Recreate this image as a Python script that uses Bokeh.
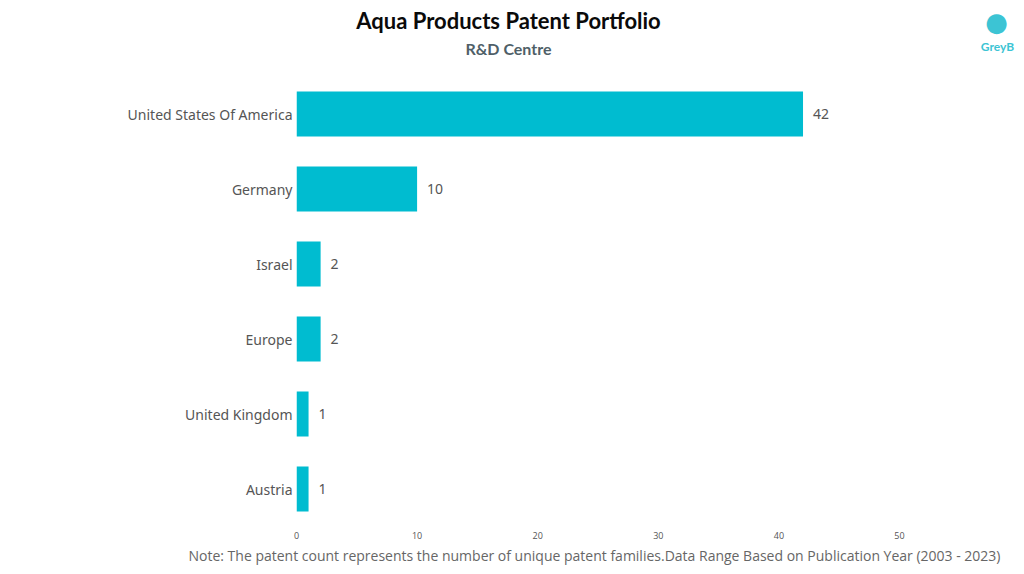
from bokeh.plotting import figure
from bokeh.models import ColumnDataSource, Label, Title, FixedTicker
from bokeh.embed import file_html
from bokeh.resources import INLINE
from bokeh.core.properties import value

categories = ["United States Of America", "Germany", "Israel", "Europe", "United Kingdom", "Austria"]
counts = [42, 10, 2, 2, 1, 1]
x_ticks = [0, 10, 20, 30, 40, 50]

title_text = "Aqua Products Patent Portfolio"
subtitle_text = "R&D Centre"
note_text = ("Note: The patent count represents the number of unique patent families."
             "Data Range Based on Publication Year (2003 - 2023)")
logo_text = "GreyB"

W, H = 1016, 566
BL, BB = 296, 40
PX_PER_ROW = 75.0
PX_PER_UNIT = 12.06

frame_w = W - BL
frame_h = H - BB

n = len(categories)
ypos = [n - 1 - i for i in range(n)]  # first category on top

src = ColumnDataSource(dict(y=ypos, val=counts, lab=[str(c) for c in counts]))

p = figure(width=W, height=H,
           x_range=(0, frame_w / PX_PER_UNIT),
           y_range=(-0.5, -0.5 + frame_h / PX_PER_ROW),
           output_backend="svg", toolbar_location=None,
           min_border_left=BL, min_border_right=0, min_border_top=0, min_border_bottom=BB)
p.outline_line_color = None
p.background_fill_color = "white"
p.border_fill_color = "white"

p.hbar(y="y", right="val", left=0, height=0.6, source=src, color="#00BCD0", line_color=None)
p.text(x="val", y="y", text="lab", source=src, x_offset=10, text_baseline="middle",
       text_font=value("Noto Sans"), text_font_size="14px", text_color="#555555")

p.xgrid.visible = False
p.ygrid.visible = False

p.xaxis.ticker = FixedTicker(ticks=x_ticks)
p.xaxis.axis_line_color = None
p.xaxis.major_tick_line_color = None
p.xaxis.minor_tick_line_color = None
p.xaxis.major_label_text_font = "Open Sans"
p.xaxis.major_label_text_font_size = "9px"
p.xaxis.major_label_text_color = "#555555"
p.xaxis.major_label_standoff = -1

p.yaxis.ticker = FixedTicker(ticks=ypos)
p.yaxis.major_label_overrides = {y: c for y, c in zip(ypos, categories)}
p.yaxis.axis_line_color = None
p.yaxis.major_tick_line_color = None
p.yaxis.minor_tick_line_color = None
p.yaxis.major_label_text_font = "Noto Sans"
p.yaxis.major_label_text_font_size = "14px"
p.yaxis.major_label_text_color = "#555555"
p.yaxis.major_label_standoff = -2


def add_label(px, py, text, **kw):
    # px, py: page pixel position (top-left origin)
    p.add_layout(Label(x=px - BL, y=frame_h - py, x_units="screen", y_units="screen",
                       text=text, **kw))


add_label(508, 20, title_text, text_align="center", text_baseline="middle",
          text_font="Lato", text_font_style="bold", text_font_size="22px", text_color="#0A0A0A")
add_label(508, 48, subtitle_text, text_align="center", text_baseline="middle",
          text_font="Lato", text_font_style="bold", text_font_size="16px", text_color="#4F5F68")
add_label(996, 21, "\u25CF", text_align="center", text_baseline="middle",
          text_font="DejaVu Sans", text_font_size="26px", text_color="#3CC4D4")
add_label(997, 46, logo_text, text_align="center", text_baseline="middle",
          text_font="Lato", text_font_style="bold", text_font_size="12px", text_color="#3CC4D4")

p.add_layout(Title(text=note_text, align="right", offset=16, standoff=4,
                   text_font="Open Sans", text_font_style="normal", text_font_size="14px",
                   text_color="#666666"), "below")

open("out.html", "w").write(file_html(p, INLINE))
